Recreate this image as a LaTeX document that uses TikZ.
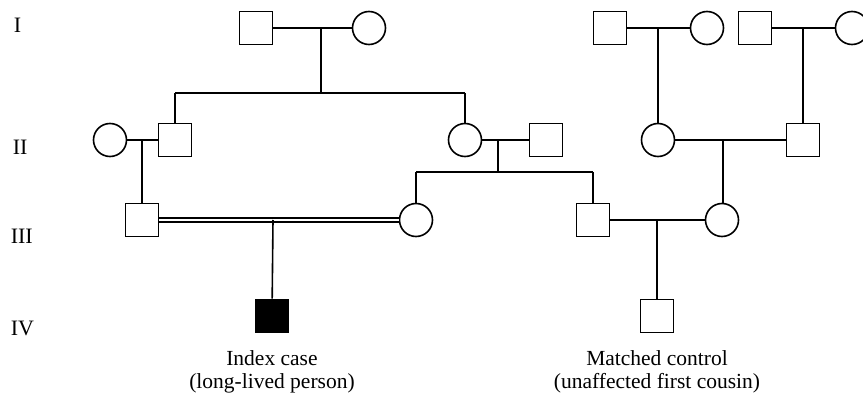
\documentclass[tikz,border=0pt]{standalone}
\usepackage{fontspec}
\setmainfont{Liberation Serif}
\usepackage{tikz}
\usetikzlibrary{positioning, calc}

\begin{document}
\begin{tikzpicture}[
  x=1pt, y=-1pt,
  line width=1.6pt,
  male/.style={draw, rectangle, minimum size=33pt, inner sep=0pt},
  female/.style={draw, circle, minimum size=33pt, inner sep=0pt},
  affected/.style={male, fill=black},
  gen/.style={anchor=west, inner sep=0pt, font=\fontsize{22}{26}\selectfont},
  lbl/.style={align=center, inner sep=0pt, font=\fontsize{21.5}{23}\selectfont}
]
  \useasboundingbox (0,0) rectangle (863,393);

  % generation numbers
  \node[gen] (gI)   at (13,25)  {I};
  \node[gen] (gII)  at (12,147) {II};
  \node[gen] (gIII) at (10,236) {III};
  \node[gen] (gIV)  at (10,328) {IV};

  % generation I
  \node[male]   (a1) at (256,28) {};
  \node[female] (a2) at (369,28) {};
  \node[male]   (b1) at (610,28) {};
  \node[female] (b2) at (707,28) {};
  \node[male]   (c1) at (755,28) {};
  \node[female] (c2) at (852,28) {};

  % generation II
  \node[female] (d1) at (110,140) {};
  \node[male]   (d2) at (175,140) {};
  \node[female] (e1) at (465,140) {};
  \node[male]   (e2) at (546,140) {};
  \node[female] (f1) at (658,140) {};
  \node[male]   (f2) at (803,140) {};

  % generation III
  \node[male]   (g1) at (142,220) {};
  \node[female] (g2) at (416,220) {};
  \node[male]   (h1) at (593,220) {};
  \node[female] (h2) at (722,220) {};

  % generation IV
  \node[affected] (idx) at (272,316) {};
  \node[male]     (ctl) at (657,316) {};

  \node[lbl, below=16pt of idx] (idxlbl) {Index case\\(long-lived person)};
  \node[lbl, below=16pt of ctl] (ctllbl) {Matched control\\(unaffected first cousin)};

  % drop points of the couples
  \coordinate (ma) at (321,28);
  \coordinate (sa) at (321,93);
  \coordinate (me) at (498,140);
  \coordinate (se) at (498,172);
  \coordinate (mg) at (273,220);
  \coordinate (mf) at (723,140);

  % marriages
  \draw (a1) -- (a2);
  \draw (b1) -- (b2);
  \draw (c1) -- (c2);
  \draw (d1) -- (d2);
  \draw (e1) -- (e2);
  \draw (f1) -- (f2);
  \draw (h1) -- (h2);
  \draw[line width=1.3pt, double, double distance=2.8pt] (g1) -- (g2);

  % descent
  \draw (ma) -- (sa);
  \draw (d2 |- sa) -- (e1 |- sa);
  \draw (d2 |- sa) -- (d2);
  \draw (e1 |- sa) -- (e1);
  \draw (me) -- (se);
  \draw (g2 |- se) -- (h1 |- se);
  \draw (g2 |- se) -- (g2);
  \draw (h1 |- se) -- (h1);
  \draw (g1 |- d1) -- (g1);
  \draw (f1 |- b1) -- (f1);
  \draw (f2 |- c1) -- (f2);
  \draw (mf) -- (mf |- h2.north);
  \draw (mg) -- (idx);
  \draw (ctl |- h1) -- (ctl);
\end{tikzpicture}
\end{document}
